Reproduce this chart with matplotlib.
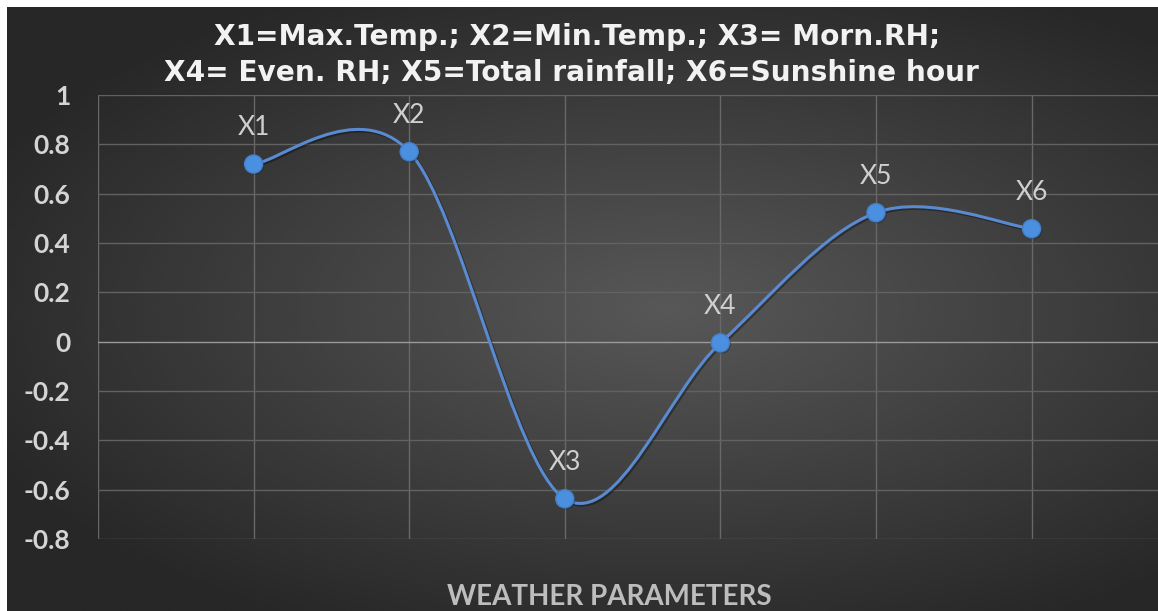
import numpy as np
import matplotlib
matplotlib.use("Agg")
import matplotlib.pyplot as plt
from matplotlib.path import Path
from matplotlib.patches import PathPatch
import matplotlib.patheffects as pe

# data
params = ["X1", "X2", "X3", "X4", "X5", "X6"]
values = [0.72, 0.77, -0.637, -0.005, 0.523, 0.458]
y_ticks = [-0.8, -0.6, -0.4, -0.2, 0, 0.2, 0.4, 0.6, 0.8, 1]
y_tick_labels = ["-0.8", "-0.6", "-0.4", "-0.2", "0", "0.2", "0.4", "0.6", "0.8", "1"]
title_lines = ["X1=Max.Temp.; X2=Min.Temp.; X3= Morn.RH;",
               "X4= Even. RH; X5=Total rainfall; X6=Sunshine hour"]
x_title = "WEATHER PARAMETERS"

W, H = 1158, 611
fig = plt.figure(figsize=(W / 100, H / 100), dpi=100, facecolor="white")

# dark radial gradient background (excel style)
bg = fig.add_axes([7 / W, 0, 1 - 7 / W, 1 - 7 / H])
gx, gy = np.meshgrid(np.linspace(-1, 1, 400), np.linspace(-1, 1, 220))
r = np.sqrt(((gx - 0.15) / 1.1) ** 2 + ((gy - 0.0) / 1.0) ** 2)
shade = 0.345 - 0.16 * np.clip(r, 0, 1.2)
bg.imshow(shade, cmap="gray", vmin=0, vmax=1, aspect="auto",
          extent=[0, 1, 0, 1], interpolation="bicubic")
bg.set_axis_off()

ax = fig.add_axes([98 / W, (H - 539) / H, (W - 98) / W, 444 / H])
ax.set_facecolor("none")
x = np.arange(1, len(values) + 1)
ax.set_xlim(0, (W - 98) / 155.6)
ax.set_ylim(-0.8, 1.0)

# grid
for gxv in range(0, 7):
    ax.axvline(gxv, color="#686868", lw=1, zorder=1)
for t in y_ticks:
    ax.axhline(t, color="#626262" if t != 0 else "#9a9a9a", lw=1, zorder=1)

# smooth line like excel (catmull-rom bezier)
pts = np.column_stack([x, values])
verts = [pts[0]]
codes = [Path.MOVETO]
for i in range(len(pts) - 1):
    p0 = pts[i - 1] if i > 0 else pts[i]
    p1 = pts[i]
    p2 = pts[i + 1]
    p3 = pts[i + 2] if i + 2 < len(pts) else pts[i + 1]
    c1 = p1 + (p2 - p0) / 6
    c2 = p2 - (p3 - p1) / 6
    verts += [c1, c2, p2]
    codes += [Path.CURVE4] * 3
curve = PathPatch(Path(verts, codes), facecolor="none", edgecolor="#5a8ad0",
                  lw=2.2, zorder=3,
                  path_effects=[pe.SimpleLineShadow(offset=(1.2, -1.2), shadow_color="black", alpha=0.35),
                                pe.Normal()])
ax.add_patch(curve)

ax.plot(x, values, "o", ms=13, mfc="#4a8fe0", mec="#4580c8", mew=1, zorder=4,
        path_effects=[pe.SimplePatchShadow(offset=(1.2, -1.2), alpha=0.4), pe.Normal()])

for xi, v, name in zip(x, values, params):
    ax.annotate(name, (xi, v), xytext=(0, 17), textcoords="offset points",
                ha="center", va="bottom", color="#cfcfcf", fontsize=19,
                family="Lato", zorder=5)

ax.set_xticks([])
ax.set_yticks(y_ticks)
ax.set_yticklabels(y_tick_labels, color="#d4d4d4", fontsize=19,
                   fontweight="bold", family="Lato")
ax.tick_params(axis="y", length=0, pad=20)
for s in ax.spines.values():
    s.set_visible(False)

fig.text(577 / W, 1 - 37 / H, title_lines[0], ha="center", va="center",
         color="#f2f2f2", fontsize=20.2, fontweight="bold", family="DejaVu Sans")
fig.text(571 / W, 1 - 73 / H, title_lines[1], ha="center", va="center",
         color="#f2f2f2", fontsize=20.2, fontweight="bold", family="DejaVu Sans")
fig.text(609 / W, 1 - 597 / H, x_title, ha="center", va="center",
         color="#bdbdbd", fontsize=20, fontweight="bold", family="Lato")

fig.savefig("out.png", dpi=100, facecolor="white")
